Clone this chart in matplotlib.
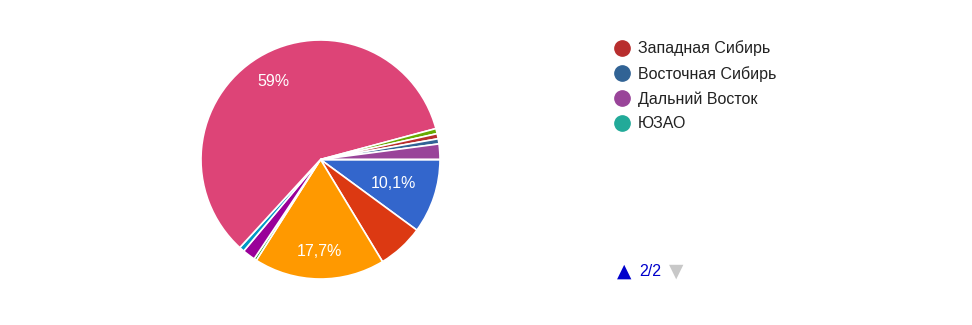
import matplotlib.pyplot as plt
from matplotlib.lines import Line2D
import numpy as np

plt.rcParams["font.family"] = ["Liberation Sans", "DejaVu Sans"]

# answer counts per slice, in drawing order (clockwise from 3 o'clock)
counts = [29, 18, 51, 1, 5, 2, 170, 2, 2, 2, 6, 0]
colors = ["#3366cc", "#dc3912", "#ff9900", "#109618", "#990099", "#0099c6",
          "#dd4477", "#66aa00", "#b82e2e", "#316395", "#994499", "#22aa99"]

# legend page 2/2 shows only the last four entries
legend_labels = ["Западная Сибирь", "Восточная Сибирь", "Дальний Восток", "ЮЗАО"]
legend_colors = colors[8:12]

fig = plt.figure(figsize=(9.72, 3.25), dpi=100)
ax = fig.add_axes([201 / 972, 46 / 325, 239 / 972, 239 / 325])

wedges, _ = ax.pie(counts, colors=colors, startangle=0, counterclock=False,
                   radius=1, wedgeprops=dict(edgecolor="white", linewidth=1.2))
ax.set_xlim(-1, 1)
ax.set_ylim(-1, 1)
ax.set_aspect("equal")

total = sum(counts)
label_r = {0: 0.64, 2: 0.77, 6: 0.76}
for i, w in enumerate(wedges):
    share = counts[i] / total * 100
    if share < 10:
        continue
    mid = np.deg2rad((w.theta1 + w.theta2) / 2)
    r = label_r.get(i, 0.7)
    txt = f"{share:.1f}".replace(".", ",")
    if txt.endswith(",0"):
        txt = txt[:-2]
    ax.text(r * np.cos(mid), r * np.sin(mid), txt + "%", ha="center", va="center",
            color="white", fontsize=11.5)

handles = [Line2D([], [], marker="o", linestyle="", markersize=11,
                  markerfacecolor=c, markeredgecolor=c) for c in legend_colors]
fig.legend(handles, legend_labels, loc="upper left", bbox_to_anchor=(599 / 972, 1 - 26 / 325),
           frameon=False, fontsize=11.5, handletextpad=0.45, labelspacing=0.6,
           handlelength=1.1, labelcolor="#222222")

fig.text(624 / 972, 1 - 271 / 325, "▲", color="#0000cc", fontsize=13.5, ha="center", va="center",
         family="DejaVu Sans")
fig.text(650 / 972, 1 - 271 / 325, "2/2", color="#0000cc", fontsize=11.5, ha="center", va="center")
fig.text(676 / 972, 1 - 271 / 325, "▼", color="#c8c8c8", fontsize=13.5, ha="center", va="center",
         family="DejaVu Sans")

fig.savefig("out.png", dpi=100)
